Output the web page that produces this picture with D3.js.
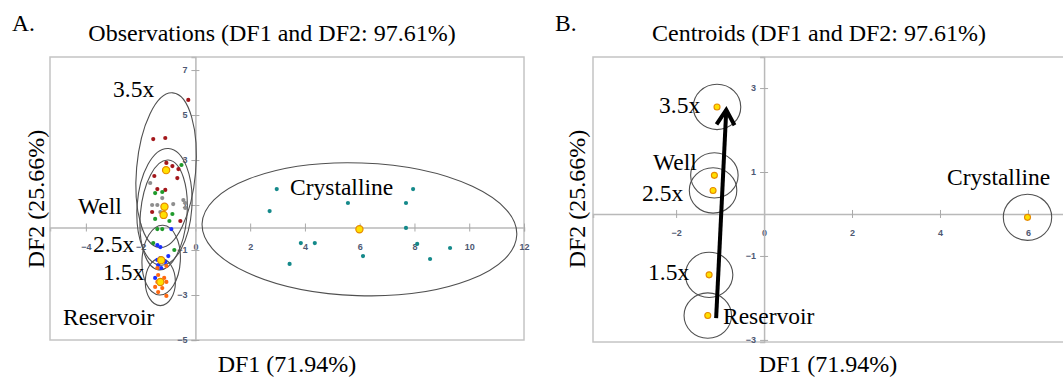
<!DOCTYPE html>
<html>
<head>
<meta charset="utf-8">
<script src="https://cdn.jsdelivr.net/npm/d3@7"></script>
<style>
  body { margin: 0; background: #fff; }
  svg { display: block; }
</style>
</head>
<body>
<svg width="1063" height="379"></svg>
<script>
// groups, in drawing order
const groups = ["3.5x", "Well", "2.5x", "1.5x", "Reservoir", "Crystalline"];
const groupColors = ["#a3171b", "#8e8e8e", "#1f9a2b", "#1b2fff", "#ff6a12", "#14898a"];

// observations (DF1, DF2) per group
const obs35 = [[-0.26, 5.67], [-1.54, 3.93], [-1.10, 3.98], [-1.06, 2.87], [-0.84, 2.73], [-0.62, 2.60],
  [-1.50, 2.29], [-0.66, 2.20], [-1.39, 1.71], [-1.10, 1.67], [-1.58, 0.69], [-0.55, 0.29]];
const obsWell = [[-1.39, 1.00], [-0.81, 1.04], [-0.44, 1.22], [-1.65, 1.98], [-0.37, 1.09],
  [-1.28, 0.69], [-0.37, 0.87], [-1.21, 1.31], [-1.58, 1.00]];
const obs25 = [[-0.51, 2.78], [-1.47, 1.53], [-1.21, 1.58], [-0.84, 0.60], [-1.47, 0.38],
  [-0.95, 0.29], [-1.39, -0.07], [-1.21, -0.07], [-1.54, -0.69], [-0.77, -1.00]];
const obs15 = [[-0.88, -0.07], [-1.39, -0.78], [-1.28, -0.87], [-1.28, -1.36], [-1.39, -1.44],
  [-1.10, -1.53], [-1.36, -1.67], [-1.25, -1.80], [-1.47, -2.24], [-0.99, -1.27]];
const obsRes = [[-1.39, -1.80], [-1.06, -1.71], [-1.36, -2.11], [-1.14, -2.24], [-1.39, -2.42],
  [-1.06, -2.42], [-1.47, -2.64], [-1.21, -2.69], [-1.36, -2.87], [-1.06, -3.04]];
const obsCry = [[2.97, 1.71], [7.95, 1.71], [2.71, 0.73], [5.57, 1.09], [7.69, 1.09], [7.69, -0.02],
  [3.85, -0.69], [4.36, -0.69], [8.10, -0.73], [9.30, -0.91], [3.44, -1.62], [6.12, -1.27], [8.57, -1.40]];
const observations = [obs35, obsWell, obs25, obs15, obsRes, obsCry];

// centroids
const centroidX = [-1.07, -1.13, -1.16, -1.25, -1.28, 5.99];
const centroidY = [2.55, 0.92, 0.56, -1.45, -2.42, -0.08];

// confidence ellipses of the observations (semi axes in DF units, tilt in degrees)
const ellRx = [1.08, 1.0, 0.85, 0.7, 0.55, 5.75];
const ellRy = [3.45, 2.6, 2.45, 1.55, 1.05, 2.95];
const ellTilt = [5, 4, 5, 3, 0, 2];

// confidence circles of the centroids
const circleR = [0.54, 0.54, 0.54, 0.54, 0.54, 0.55];

// trend arrow (Reservoir -> 3.5x)
const arrowFrom = [-1.09, -2.48];
const arrowTo = [-0.86, 2.48];

const xTicksA = [-4, -2, 0, 2, 4, 6, 8, 10, 12];
const yTicksA = [-5, -3, -1, 1, 3, 5, 7];
const xTicksB = [-2, 0, 2, 4, 6];
const yTicksB = [-3, -1, 1, 3];

const svg = d3.select("svg");
const serif = "'Liberation Serif', 'Times New Roman', serif";

function frame(box, xDom, yDom, xTicks, yTicks) {
  const x = d3.scaleLinear().domain(xDom).range([box.left, box.right]);
  const y = d3.scaleLinear().domain(yDom).range([box.bottom, box.top]);
  const g = svg.append("g");

  g.append("rect")
    .attr("x", box.left).attr("y", box.top)
    .attr("width", box.right - box.left).attr("height", box.bottom - box.top)
    .attr("fill", "none").attr("stroke", "#c4c4c4").attr("stroke-width", 1.5);

  const ax = g.append("g")
    .attr("transform", `translate(0,${y(0)})`)
    .call(d3.axisBottom(x).tickValues(xTicks).tickFormat(d3.format("d"))
      .tickSizeOuter(0).tickSize(4));
  const ay = g.append("g")
    .attr("transform", `translate(${x(0)},0)`)
    .call(d3.axisLeft(y).tickValues(yTicks).tickFormat(d3.format("d"))
      .tickSizeOuter(0).tickSize(4).tickPadding(4));

  [ax, ay].forEach(a => {
    a.select(".domain").attr("stroke", "#b9b9b9").attr("stroke-width", 1.5);
    a.selectAll(".tick line").attr("stroke", "#a9a9a9");
    a.selectAll(".tick text")
      .attr("fill", "#4e5872")
      .attr("font-family", "'Liberation Sans', Arial, sans-serif")
      .attr("font-weight", "bold")
      .attr("font-size", 9);
  });
  ax.selectAll(".tick line").attr("y1", -4).attr("y2", 4);
  ax.selectAll(".tick text").attr("y", 16);
  ay.selectAll(".tick line").attr("x1", -4).attr("x2", 4);

  return { g, x, y };
}

function label(text, x, y, opts = {}) {
  svg.append("text")
    .attr("x", x).attr("y", y)
    .attr("text-anchor", opts.anchor || "start")
    .attr("transform", opts.rotate ? `rotate(-90,${x},${y})` : null)
    .attr("font-family", serif)
    .attr("font-size", opts.size || 23.5)
    .attr("fill", "#000")
    .text(text);
}

// ---------- Panel A: observations ----------
const A = frame({ left: 50, right: 524, top: 57, bottom: 340 },
  [-5.31, 12], [-5, 7.58], xTicksA, yTicksA);

const kxA = A.x(1) - A.x(0), kyA = A.y(0) - A.y(1);
A.g.append("g").selectAll("ellipse")
  .data(groups)
  .join("ellipse")
  .attr("cx", 0).attr("cy", 0)
  .attr("rx", (d, i) => ellRx[i] * kxA)
  .attr("ry", (d, i) => ellRy[i] * kyA)
  .attr("transform", (d, i) => `translate(${A.x(centroidX[i])},${A.y(centroidY[i])}) rotate(${ellTilt[i]})`)
  .attr("fill", "none").attr("stroke", "#505050").attr("stroke-width", 1.1);

observations.forEach((pts, i) => {
  A.g.append("g").selectAll("circle")
    .data(pts)
    .join("circle")
    .attr("cx", d => A.x(d[0])).attr("cy", d => A.y(d[1]))
    .attr("r", 2.1)
    .attr("fill", groupColors[i]);
});

A.g.append("g").selectAll("circle")
  .data(groups)
  .join("circle")
  .attr("cx", (d, i) => A.x(centroidX[i])).attr("cy", (d, i) => A.y(centroidY[i]))
  .attr("r", 3.6)
  .attr("fill", "#ffe000").attr("stroke", "#e68a00").attr("stroke-width", 1.2);

label("A.", 12, 31);
label("Observations (DF1 and DF2: 97.61%)", 272, 41, { anchor: "middle", size: 24 });
label("DF1 (71.94%)", 287, 372, { anchor: "middle", size: 24 });
label("DF2 (25.66%)", 44, 199, { anchor: "middle", rotate: true, size: 24 });
label("3.5x", 113, 97);
label("Well", 78, 214);
label("2.5x", 93, 252);
label("1.5x", 103, 280);
label("Reservoir", 63, 325);
label("Crystalline", 290, 195);

// ---------- Panel B: centroids ----------
const B = frame({ left: 593, right: 1075, top: 57, bottom: 342 },
  [-3.89, 7.07], [-3.05, 3.74], xTicksB, yTicksB);

const kxB = B.x(1) - B.x(0), kyB = B.y(0) - B.y(1);
B.g.append("g").selectAll("ellipse")
  .data(groups)
  .join("ellipse")
  .attr("cx", (d, i) => B.x(centroidX[i])).attr("cy", (d, i) => B.y(centroidY[i]))
  .attr("rx", (d, i) => circleR[i] * kxB)
  .attr("ry", (d, i) => circleR[i] * kyB)
  .attr("fill", "none").attr("stroke", "#505050").attr("stroke-width", 1.1);

B.g.append("g").selectAll("circle")
  .data(groups)
  .join("circle")
  .attr("cx", (d, i) => B.x(centroidX[i])).attr("cy", (d, i) => B.y(centroidY[i]))
  .attr("r", 3)
  .attr("fill", "#ffe000").attr("stroke", "#e68a00").attr("stroke-width", 1.1);

svg.append("defs").append("marker")
  .attr("id", "chevron")
  .attr("markerUnits", "userSpaceOnUse")
  .attr("markerWidth", 30).attr("markerHeight", 30)
  .attr("viewBox", "-20 -15 30 30")
  .attr("refX", 0).attr("refY", 0)
  .attr("orient", "auto")
  .append("path")
  .attr("d", "M-15,-9 L0,0 L-15,9")
  .attr("fill", "none").attr("stroke", "#000").attr("stroke-width", 4)
  .attr("stroke-linejoin", "miter");

B.g.append("line")
  .attr("x1", B.x(arrowFrom[0])).attr("y1", B.y(arrowFrom[1]))
  .attr("x2", B.x(arrowTo[0])).attr("y2", B.y(arrowTo[1]))
  .attr("stroke", "#000").attr("stroke-width", 4)
  .attr("marker-end", "url(#chevron)");

label("B.", 555, 31);
label("Centroids (DF1 and DF2: 97.61%)", 819, 41, { anchor: "middle", size: 24 });
label("DF1 (71.94%)", 828, 372, { anchor: "middle", size: 24 });
label("DF2 (25.66%)", 585, 199, { anchor: "middle", rotate: true, size: 24 });
label("3.5x", 659, 113);
label("Well", 653, 170);
label("2.5x", 642, 201);
label("1.5x", 648, 280);
label("Reservoir", 723, 324);
label("Crystalline", 947, 185);
</script>
</body>
</html>
